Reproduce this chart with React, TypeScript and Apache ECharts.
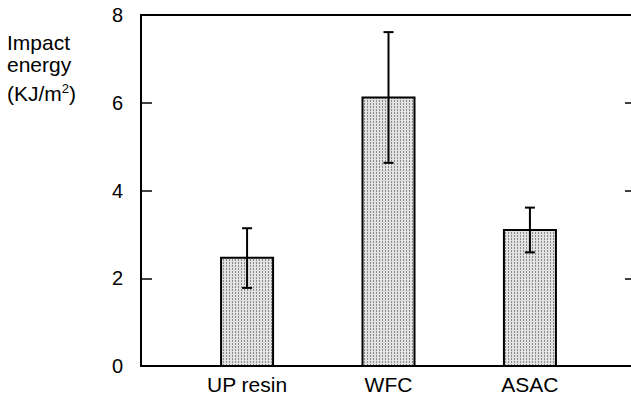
import React, { useEffect, useRef } from "react";
import * as echarts from "echarts";

const categories = ["UP resin", "WFC", "ASAC"];
const positions = [1, 2, 3];
const meanValues = [2.47, 6.12, 3.1];
const errLow = [1.78, 4.63, 2.59];
const errHigh = [3.14, 7.61, 3.61];
const yTickValues = [0, 2, 4, 6, 8];

export default function App() {
  const ref = useRef<HTMLDivElement>(null);
  useEffect(() => {
    const chart = echarts.init(ref.current!, null, { renderer: "svg" });

    const cv = document.createElement("canvas");
    cv.width = 3;
    cv.height = 3;
    const ctx = cv.getContext("2d")!;
    ctx.fillStyle = "#e2e2e2";
    ctx.fillRect(0, 0, 3, 3);
    ctx.fillStyle = "#8a8a8a";
    ctx.fillRect(1, 1, 1, 2);
    const pattern: any = { image: cv, repeat: "repeat" };

    const barData = positions.map((p, i) => [p, meanValues[i]]);
    const errData = positions.map((p, i) => [p, errLow[i], errHigh[i]]);

    const font = "'Liberation Sans', Arial, Helvetica, sans-serif";

    chart.setOption({
      animation: false,
      backgroundColor: "#fff",
      grid: { left: 141, right: -5, top: 15, bottom: 34, outerBoundsMode: "none" },
      xAxis: [
        {
          type: "value",
          min: 0.25,
          max: 3.75,
          position: "bottom",
          axisLine: { show: true, onZero: false, lineStyle: { color: "#000", width: 2 } },
          axisTick: { show: false },
          splitLine: { show: false },
          axisLabel: {
            customValues: positions,
            formatter: (v: number) => categories[Math.round(v) - 1] ?? "",
            color: "#000",
            fontSize: 21,
            fontFamily: font,
            margin: 8,
          },
        },
        {
          type: "value",
          min: 0.25,
          max: 3.75,
          position: "top",
          axisLine: { show: true, onZero: false, lineStyle: { color: "#000", width: 2 } },
          axisTick: { show: false },
          splitLine: { show: false },
          axisLabel: { show: false },
        },
      ],
      yAxis: [
        {
          type: "value",
          min: 0,
          max: 8,
          interval: 2,
          position: "left",
          axisLine: { show: true, onZero: false, lineStyle: { color: "#000", width: 2 } },
          axisTick: { show: true, inside: true, length: 11, customValues: yTickValues.slice(1, 4), lineStyle: { color: "#000", width: 1.5 } },
          splitLine: { show: false },
          axisLabel: { color: "#000", fontSize: 20, fontFamily: font, margin: 18, customValues: yTickValues },
        },
        {
          type: "value",
          min: 0,
          max: 8,
          interval: 2,
          position: "right",
          axisLine: { show: true, onZero: false, lineStyle: { color: "#000", width: 2 } },
          axisTick: { show: true, inside: true, length: 11, customValues: yTickValues.slice(1, 4), lineStyle: { color: "#000", width: 1.5 } },
          splitLine: { show: false },
          axisLabel: { show: false },
        },
      ],
      graphic: [
        {
          type: "text",
          left: 7,
          top: 32,
          style: { text: "Impact", fill: "#000", fontSize: 21, fontFamily: font },
        },
        {
          type: "text",
          left: 7,
          top: 54,
          style: { text: "energy", fill: "#000", fontSize: 21, fontFamily: font },
        },
        {
          type: "text",
          left: 7,
          top: 82,
          style: {
            text: "{a|(KJ/m}{s|2}{a|)}",
            rich: {
              a: { fontSize: 21, fontFamily: font, fill: "#000", verticalAlign: "bottom" },
              s: { fontSize: 13, fontFamily: font, fill: "#000", verticalAlign: "top", padding: [0, 0, 9, 0] },
            },
          },
        },
      ],
      series: [
        {
          type: "custom",
          xAxisIndex: 0,
          yAxisIndex: 0,
          data: barData,
          renderItem: (params: any, api: any) => {
            const top = api.coord([api.value(0), api.value(1)]);
            const base = api.coord([api.value(0), 0]);
            const w = 52;
            return {
              type: "rect",
              shape: { x: top[0] - w / 2, y: top[1], width: w, height: base[1] - top[1] },
              style: { fill: pattern, stroke: "#000", lineWidth: 2 },
            };
          },
        },
        {
          type: "custom",
          xAxisIndex: 0,
          yAxisIndex: 0,
          data: errData,
          z: 3,
          renderItem: (params: any, api: any) => {
            const lo = api.coord([api.value(0), api.value(1)]);
            const hi = api.coord([api.value(0), api.value(2)]);
            const cap = 5;
            const st = { stroke: "#000", lineWidth: 2 };
            return {
              type: "group",
              children: [
                { type: "line", shape: { x1: lo[0], y1: lo[1], x2: hi[0], y2: hi[1] }, style: st },
                { type: "line", shape: { x1: lo[0] - cap, y1: lo[1], x2: lo[0] + cap, y2: lo[1] }, style: st },
                { type: "line", shape: { x1: hi[0] - cap, y1: hi[1], x2: hi[0] + cap, y2: hi[1] }, style: st },
              ],
            };
          },
        },
      ],
    });
    return () => chart.dispose();
  }, []);
  return <div ref={ref} style={{ position: "absolute", left: 0, top: 0, width: 631, height: 400 }} />;
}
